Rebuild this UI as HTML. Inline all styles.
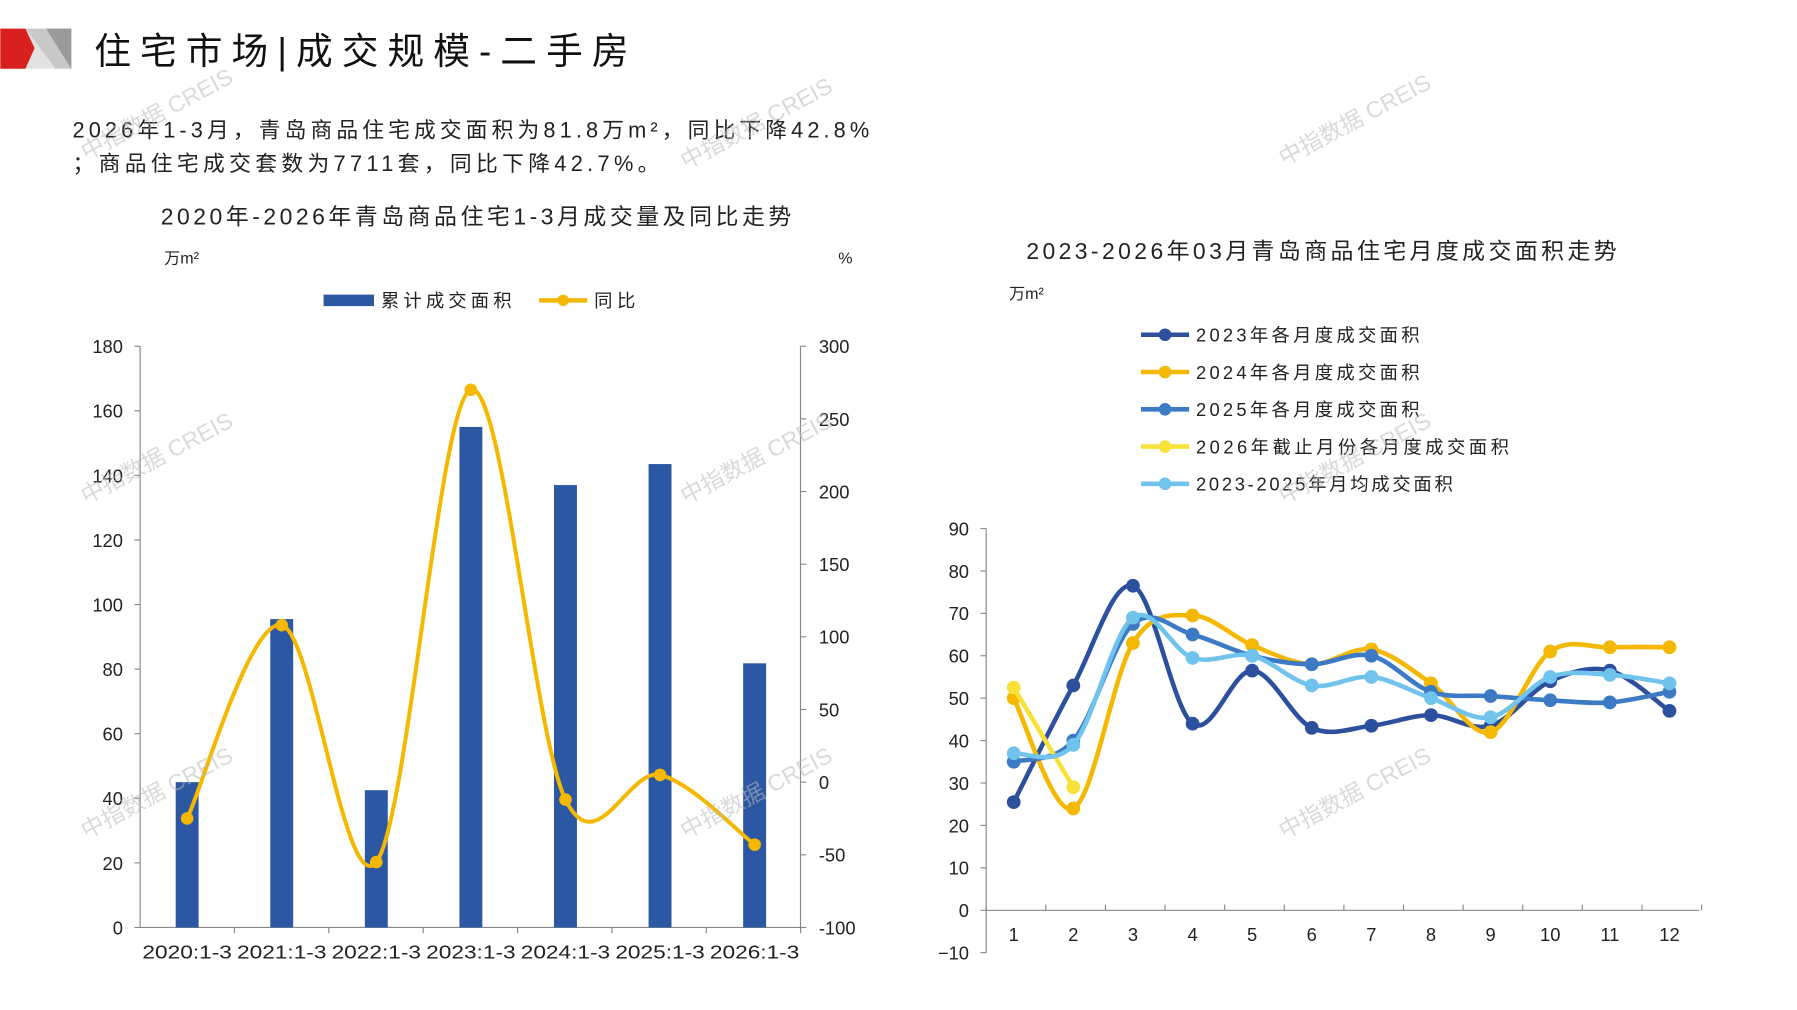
<!DOCTYPE html>
<html><head><meta charset="utf-8"><style>
html,body{margin:0;padding:0;background:#fff;}
svg{display:block;font-family:"Liberation Sans","Noto Sans CJK SC",sans-serif;}
</style></head><body>
<svg id="s" width="1797" height="1010" viewBox="0 0 1567 881" xmlns="http://www.w3.org/2000/svg">
<rect width="1567" height="881" fill="#fff"/>
<polygon points="0,25 22,25 30,42 22,60 0,60" fill="#d9201f"/>
<polygon points="22,25 62,25 62,60 48,60" fill="#c8c8c8"/>
<polygon points="40,25 62,25 62,60" fill="#9a9a9a"/>
<polygon points="22,25 30,42 22,60 48,60" fill="#e2e2e2"/>
<text x="82" y="56" font-size="32" fill="#111" textLength="466" lengthAdjust="spacing">住宅市场|成交规模-二手房</text>
<text x="63" y="120" font-size="19" fill="#222" textLength="695" lengthAdjust="spacing">2026年1-3月，青岛商品住宅成交面积为81.8万m²，同比下降42.8%</text>
<text x="63" y="149" font-size="19" fill="#222" textLength="512" lengthAdjust="spacing">；商品住宅成交套数为7711套，同比下降42.7%。</text>
<text x="140" y="196" font-size="20" fill="#222" textLength="550" lengthAdjust="spacing">2020年-2026年青岛商品住宅1-3月成交量及同比走势</text>
<text x="143" y="230" font-size="14" fill="#222">万m²</text>
<text x="731" y="230" font-size="14" fill="#222">%</text>
<rect x="282" y="257" width="44" height="10" fill="#2c57a3"/>
<text x="332" y="268" font-size="16" fill="#222" textLength="114" lengthAdjust="spacing">累计成交面积</text>
<line x1="470" y1="262" x2="512" y2="262" stroke="#f5b800" stroke-width="4"/>
<circle cx="491" cy="262" r="5" fill="#f5b800"/>
<text x="518" y="268" font-size="16" fill="#222" textLength="36" lengthAdjust="spacing">同比</text>
<g id="L"></g>
<g id="R"></g>
<text x="895" y="226" font-size="20" fill="#222" textLength="515" lengthAdjust="spacing">2023-2026年03月青岛商品住宅月度成交面积走势</text>
<text x="880" y="261" font-size="14" fill="#222">万m²</text>
<g fill="#bbb" font-size="20" opacity="0.55">
<text transform="translate(75,140) rotate(-28)">中指数据 CREIS</text>
<text transform="translate(598,148) rotate(-28)">中指数据 CREIS</text>
<text transform="translate(1120,145) rotate(-28)">中指数据 CREIS</text>
<text transform="translate(75,440) rotate(-28)">中指数据 CREIS</text>
<text transform="translate(598,440) rotate(-28)">中指数据 CREIS</text>
<text transform="translate(1120,440) rotate(-28)">中指数据 CREIS</text>
<text transform="translate(75,732) rotate(-28)">中指数据 CREIS</text>
<text transform="translate(598,732) rotate(-28)">中指数据 CREIS</text>
<text transform="translate(1120,732) rotate(-28)">中指数据 CREIS</text>
</g>
</svg>
<script>
var NS="http://www.w3.org/2000/svg";
function el(p,t,a,txt){var e=document.createElementNS(NS,t);for(var k in a)e.setAttribute(k,a[k]);if(txt!=null)e.textContent=txt;p.appendChild(e);return e;}
function spline(pts){var d="M"+pts[0][0]+","+pts[0][1];for(var i=0;i<pts.length-1;i++){var p0=pts[i-1]||pts[i],p1=pts[i],p2=pts[i+1],p3=pts[i+2]||p2;var t=6;d+=" C"+(p1[0]+(p2[0]-p0[0])/t)+","+(p1[1]+(p2[1]-p0[1])/t)+" "+(p2[0]-(p3[0]-p1[0])/t)+","+(p2[1]-(p3[1]-p1[1])/t)+" "+p2[0]+","+p2[1];}return d;}
var L=document.getElementById("L");
var y0=809,yt=302;function yl(v){return y0-(v/180)*(y0-yt);}function yr(v){return y0-((v+100)/400)*(y0-yt);}
el(L,"line",{x1:122,y1:yt,x2:122,y2:y0,stroke:"#888"});
el(L,"line",{x1:698,y1:yt,x2:698,y2:y0,stroke:"#888"});
el(L,"line",{x1:122,y1:y0,x2:698,y2:y0,stroke:"#888"});
for(var v=0;v<=180;v+=20){var y=yl(v);el(L,"line",{x1:117,y1:y,x2:122,y2:y,stroke:"#888"});el(L,"text",{x:107,y:y+6,"font-size":16,"text-anchor":"end",fill:"#222"},v);}
for(var v=-100;v<=300;v+=50){var y=yr(v);el(L,"line",{x1:698,y1:y,x2:703,y2:y,stroke:"#888"});el(L,"text",{x:714,y:y+6,"font-size":16,fill:"#222"},v);}
var bars=[45,95.5,42.5,155,137,143.5,81.8],yoy=[-25,108,-55,270,-12,5,-43];
var lp=[];
for(var i=0;i<7;i++){var cx=163+i*82.5;el(L,"rect",{x:cx-10,y:yl(bars[i]),width:20,height:y0-yl(bars[i]),fill:"#2c57a3"});
el(L,"text",{x:cx,y:836,"font-size":16,"text-anchor":"middle",fill:"#222",textLength:78,lengthAdjust:"spacingAndGlyphs"},(2020+i)+":1-3");lp.push([cx,yr(yoy[i])]);
el(L,"line",{x1:122+(i+1)*82.3,y1:y0,x2:122+(i+1)*82.3,y2:y0+5,stroke:"#888"});}
el(L,"path",{d:spline(lp),fill:"none",stroke:"#f5b800","stroke-width":3.5});
lp.forEach(function(p){el(L,"circle",{cx:p[0],cy:p[1],r:5.5,fill:"#f5b800"});});
var R=document.getElementById("R");
var ax=860;function ry(v){return 794-v*3.7;}
el(R,"line",{x1:ax,y1:ry(90),x2:ax,y2:ry(-10),stroke:"#888"});
el(R,"line",{x1:ax,y1:794,x2:1482,y2:794,stroke:"#888"});
for(var v=-10;v<=90;v+=10){var y=ry(v);el(R,"line",{x1:ax-5,y1:y,x2:ax,y2:y,stroke:"#888"});el(R,"text",{x:845,y:y+6,"font-size":16,"text-anchor":"end",fill:"#222"},v<0?"−10":v);}
for(var i=0;i<=12;i++){var x=ax+i*52;el(R,"line",{x1:x,y1:794,x2:x,y2:789,stroke:"#888"});}
for(var i=1;i<=12;i++)el(R,"text",{x:884+(i-1)*52,y:821,"font-size":16,"text-anchor":"middle",fill:"#222"},i);
var S=[
["2023年各月度成交面积","#2c4f9e",[25.5,53,76.5,44,56.5,43,43.5,46,43.5,54,56.5,47],195],
["2024年各月度成交面积","#f5b800",[50,24,63,69.5,62.5,58,61.5,53.5,42,61,62,62],195],
["2025年各月度成交面积","#3c7ac6",[35,40,67.5,65,60,58,60,51.5,50.5,49.5,49,51.5],195],
["2026年截止月份各月度成交面积","#f8e23a",[52.5,29],273],
["2023-2025年月均成交面积","#70c3ec",[37,39,69,59.5,60,53,55,50,45.5,55,55.5,53.5],224]];
S.forEach(function(s,k){var ly=292+k*32.5;
el(R,"line",{x1:995,y1:ly,x2:1037,y2:ly,stroke:s[1],"stroke-width":4});el(R,"circle",{cx:1016,cy:ly,r:5.5,fill:s[1]});
el(R,"text",{x:1043,y:ly+6,"font-size":16,fill:"#222",textLength:s[3],lengthAdjust:"spacing"},s[0]);
var pts=s[2].map(function(v,i){return [884+i*52,ry(v)];});
el(R,"path",{d:spline(pts),fill:"none",stroke:s[1],"stroke-width":4});
pts.forEach(function(p){el(R,"circle",{cx:p[0],cy:p[1],r:6,fill:s[1]});});});
</script>
</body></html>
